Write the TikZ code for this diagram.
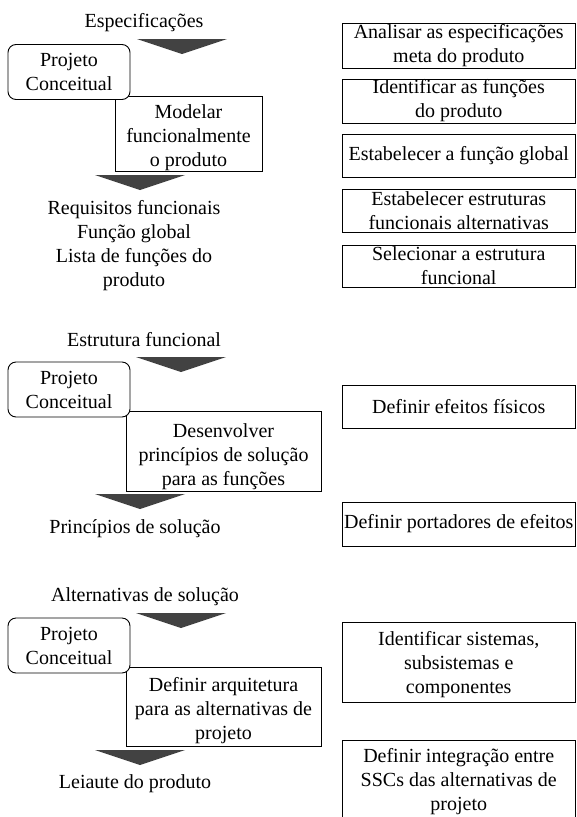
\documentclass[tikz,border=0pt]{standalone}
\usepackage{fontspec}
\setmainfont{Liberation Serif}
\definecolor{flowGray}{RGB}{66,66,66}

\begin{document}
\begin{tikzpicture}[
  x=1pt, y=-1pt,
  txt/.style={font=\fontsize{20}{24}\selectfont, align=center, inner sep=0pt},
  phase/.style={
    txt,
    draw,
    fill=white,
    rounded corners=8pt,
    minimum width=122pt,
    minimum height=55pt,
    line width=0.9pt
  },
  task/.style={txt, draw, fill=white, line width=0.9pt},
  act/.style={txt, draw, line width=0.9pt, minimum width=232.5pt},
  flow/.style={fill=flowGray}
]
  \useasboundingbox (0,0) rectangle (576,817);
  \clip (0,0) rectangle (576,817);

  % ── Bloco 1 ───────────────────────────────────────────────
  \node[txt] (in1) at (144, 23) {Especificações};
  \node[task, minimum width=147pt, minimum height=75pt] (task1) at (188.5, 133.5)
        {\rule{0pt}{21.5pt}Modelar\\funcionalmente\\o produto};
  \node[phase] (pc1) at (69, 72) {Projeto\\Conceitual};
  \node[txt] (out1) at (134, 246)
        {Requisitos funcionais\\Função global\\Lista de funções do\\produto};

  % ── Bloco 2 ───────────────────────────────────────────────
  \node[txt] (in2) at (144, 340) {Estrutura funcional};
  \node[task, minimum width=195pt, minimum height=80pt] (task2) at (223.5, 451)
        {\rule{0pt}{25.5pt}Desenvolver\\princípios de solução\\para as funções};
  \node[phase] (pc2) at (69, 389.5) {Projeto\\Conceitual};
  \node[txt] (out2) at (135, 529) {Princípios de solução};

  % ── Bloco 3 ───────────────────────────────────────────────
  \node[txt] (in3) at (145, 597) {Alternativas de solução};
  \node[task, minimum width=195pt, minimum height=79pt] (task3) at (223.5, 706.5)
        {\rule{0pt}{21.5pt}Definir arquitetura\\para as alternativas de\\projeto};
  \node[phase] (pc3) at (69, 645.5) {Projeto\\Conceitual};
  \node[txt] (out3) at (135, 784) {Leiaute do produto};

  % ── Setas (triângulos) ────────────────────────────────────
  \foreach \X/\Y in {182/39, 181/357, 181/613} {
    \fill[flow] (\X-45, \Y) -- (\X+45, \Y) -- (\X, \Y+15) -- cycle;
  }
  \foreach \X/\Y in {140/175, 140/494, 140/750} {
    \fill[flow] (\X-45, \Y) -- (\X+45, \Y) -- (\X, \Y+15) -- cycle;
  }

  % ── Atividades ────────────────────────────────────────────
  \node[act, minimum height=45pt] (a1) at (458.75, 45.5)
        {Analisar as especificações\\meta do produto};
  \node[act, minimum height=44pt] (a2) at (458.75, 101)
        {Identificar as funções\\do produto};
  \node[act, minimum height=43pt] (a3) at (458.75, 155.5)
        {Estabelecer a função global};
  \node[act, minimum height=43pt] (a4) at (458.75, 210.5)
        {Estabelecer estruturas\\funcionais alternativas};
  \node[act, minimum height=42pt] (a5) at (458.75, 266)
        {Selecionar a estrutura\\funcional};

  \node[act, minimum height=43pt] (a6) at (458.75, 406.5)
        {Definir efeitos físicos};
  \node[act, minimum height=44pt] (a7) at (458.75, 524)
        {Definir portadores de efeitos};

  \node[act, minimum height=80pt] (a8) at (458.75, 662)
        {\rule{0pt}{20pt}Identificar sistemas,\\subsistemas e\\componentes};
  \node[act, minimum height=84pt] (a9) at (458.75, 782)
        {Definir integração entre\\SSCs das alternativas de\\projeto};

\end{tikzpicture}
\end{document}
